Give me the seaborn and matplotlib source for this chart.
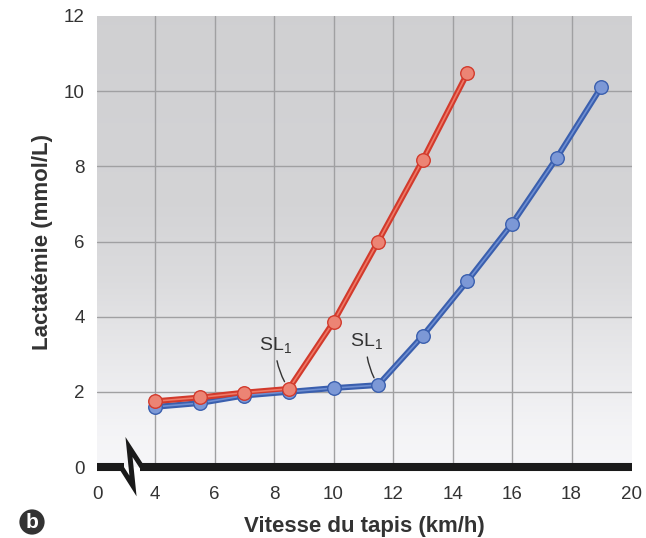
import numpy as np
import pandas as pd
import matplotlib
matplotlib.use("Agg")
import matplotlib.pyplot as plt
import seaborn as sns

# ---- data ----
red_x = [4, 5.5, 7, 8.5, 10, 11.5, 13, 14.5]
red_y = [1.75, 1.85, 1.98, 2.08, 3.86, 6.0, 8.17, 10.48]
blue_x = [4, 5.5, 7, 8.5, 10, 11.5, 13, 14.5, 16, 17.5, 19]
blue_y = [1.6, 1.7, 1.9, 2.0, 2.1, 2.18, 3.49, 4.95, 6.47, 8.22, 10.11]
x_ticks = [4, 6, 8, 10, 12, 14, 16, 18, 20]
y_ticks = [0, 2, 4, 6, 8, 10, 12]
x_label = "Vitesse du tapis (km/h)"
y_label = "Lactatémie (mmol/L)"

sns.set_theme(style="white")
plt.rcParams['font.family'] = ['Liberation Sans', 'DejaVu Sans']

W, H = 646, 538
fig = plt.figure(figsize=(W / 100, H / 100), dpi=100)
L, R, T, B = 97, 632, 16, 467
ax = fig.add_axes([L / W, 1 - B / H, (R - L) / W, (B - T) / H])

x0 = 4 - (155 - 97) / 29.75
x1 = 4 + (632 - 155) / 29.75
ax.set_xlim(x0, x1)
ax.set_ylim(0, 12)

# gradient background
ys = np.linspace(0, 12, 300)
vals = np.interp(ys, [0, 1, 3, 5, 7, 12], [0.965, 0.955, 0.91, 0.86, 0.83, 0.815])
grad = vals[::-1].reshape(-1, 1)
ax.imshow(np.dstack([grad, grad, grad * 1.01]).clip(0, 1), extent=[x0, x1, 0, 12],
          aspect='auto', zorder=0)

# grid
for xv in x_ticks[:-1]:
    ax.axvline(xv, color='#a0a0a2', lw=1.0, zorder=1)
for yv in y_ticks[1:-1]:
    ax.axhline(yv, color='#a0a0a2', lw=1.0, zorder=1)

red_df = pd.DataFrame({'x': red_x, 'y': red_y})
blue_df = pd.DataFrame({'x': blue_x, 'y': blue_y})

for df, dark, light, mk in [(blue_df, '#3a5fae', '#6f8fd2', '#7c98d6'),
                             (red_df, '#d23a2c', '#ef7a68', '#ec8474')]:
    sns.lineplot(data=df, x='x', y='y', ax=ax, color=dark, lw=4.2, zorder=3,
                 sort=False, legend=False)
    sns.lineplot(data=df, x='x', y='y', ax=ax, color=light, lw=1.2, zorder=4,
                 sort=False, legend=False)
    sns.scatterplot(data=df, x='x', y='y', ax=ax, color=mk, s=95,
                    edgecolor=dark, linewidth=1.0, zorder=5, legend=False)

# SL1 annotations
def sl(ax, tx, ty, px, py):
    ax.annotate("SL$_{\\mathregular{1}}$", xy=(px, py), xytext=(tx, ty),
                fontsize=14, color='#333333', ha='center', va='bottom',
                arrowprops=dict(arrowstyle='-', color='#333333', lw=1.0,
                                connectionstyle="arc3,rad=0.15",
                                shrinkA=1, shrinkB=6), zorder=6)

sl(ax, 8.05, 2.95, red_x[3], red_y[3])
sl(ax, 11.1, 3.05, blue_x[5], blue_y[5])

# ticks
ax.set_xticks([x0] + x_ticks[:-1] + [x1])
ax.set_xticklabels(['0'] + [str(v) for v in x_ticks])
ax.set_yticks(y_ticks)
ax.set_yticklabels([str(v) for v in y_ticks])
ax.tick_params(axis='both', direction='in', length=8, width=1.5, color='#555555',
               labelsize=13.5, labelcolor='#333333')
ax.tick_params(axis='y', pad=9)
ax.tick_params(axis='x', pad=14)
xt = ax.xaxis.get_major_ticks()
xt[0].tick1line.set_visible(False)
for s in ['top', 'right', 'left', 'bottom']:
    ax.spines[s].set_visible(False)

ax.set_xlabel(x_label, fontsize=16, fontweight='bold', color='#333333', labelpad=9)
ax.set_ylabel(y_label, fontsize=16, fontweight='bold', color='#333333', labelpad=8)

# bottom black axis with break (decoration in pixel coordinates)
def px2d(px, py):
    return 4 + (px - 155) / 29.75, (467 - py) / 37.58

for seg in [[(97, 467), (124, 467)], [(140, 467), (632, 467)]]:
    pts = [px2d(*p) for p in seg]
    ax.plot(*zip(*pts), color='#1a1a1a', lw=5.8, solid_capstyle='butt',
            clip_on=False, zorder=7)
zig = [(121, 467), (133, 486), (129, 447), (142, 467)]
pts = [px2d(*p) for p in zig]
ax.plot(*zip(*pts), color='#1a1a1a', lw=3.6, solid_joinstyle='miter',
        solid_capstyle='butt', clip_on=False, zorder=7)

# panel letter
fig.text(32 / W, 1 - 522 / H, 'b', fontsize=15, fontweight='bold', color='white',
         ha='center', va='center',
         bbox=dict(boxstyle='circle,pad=0.15', fc='#333333', ec='none'))

fig.savefig('out.png', dpi=100)
